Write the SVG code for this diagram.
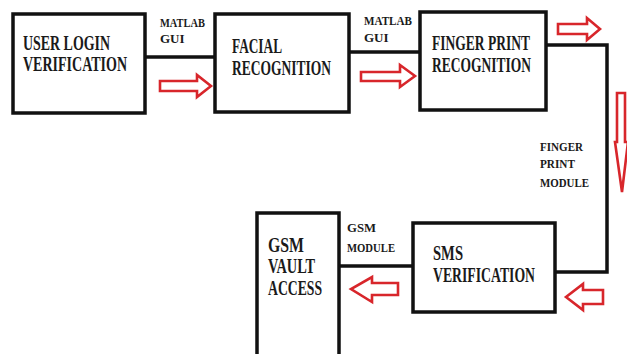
<svg xmlns="http://www.w3.org/2000/svg" width="627" height="354" viewBox="0 0 627 354">
<style>
.box{fill:#fff;stroke:#111;stroke-width:3.5}
.wire{fill:none;stroke:#111;stroke-width:3.5}
.arr{fill:#fff;stroke:#d8262b;stroke-width:2.6;stroke-linejoin:miter}
.t{font-family:"Liberation Serif","Times New Roman",serif;font-weight:bold;font-size:20px;fill:#1a1a1a}
.s{font-family:"Liberation Serif","Times New Roman",serif;font-weight:bold;font-size:13px;fill:#1a1a1a}
</style>
<rect width="627" height="354" fill="#fff"/>
<g id="connectors">
<path class="wire" d="M145,57 H215"/>
<path class="wire" d="M349,52 H420"/>
<path class="wire" d="M546,45 H607 V272 H555"/>
<path class="wire" d="M413,266 H339"/>
<path class="arr" d="M160,81 H197 V75 L211,86 L197,97 V91 H160 Z"/>
<path class="arr" d="M361,72 H400 V65 L415,76 L400,87 V81 H361 Z"/>
<path class="arr" d="M558,24 H587 V18 L600,29 L587,40 V34 H558 Z"/>
<path class="arr" d="M617,93 H625 V142 H628 L622,192 L615,142 H617 Z"/>
<path class="arr" d="M603,290 H583 V284 L566,297 L583,310 V304 H603 Z"/>
<path class="arr" d="M398,283 H372 V277 L351,289 L372,302 V295 H398 Z"/>
<text class="s" x="160" y="27" textLength="45" lengthAdjust="spacingAndGlyphs">MATLAB</text>
<text class="s" x="160" y="43">GUI</text>
<text class="s" x="364" y="25" textLength="48" lengthAdjust="spacingAndGlyphs">MATLAB</text>
<text class="s" x="364" y="42">GUI</text>
<text class="s" x="540" y="151" textLength="43" lengthAdjust="spacingAndGlyphs">FINGER</text>
<text class="s" x="540" y="168" textLength="35" lengthAdjust="spacingAndGlyphs">PRINT</text>
<text class="s" x="540" y="187" textLength="49" lengthAdjust="spacingAndGlyphs">MODULE</text>
<text class="s" x="347" y="232" textLength="29" lengthAdjust="spacingAndGlyphs">GSM</text>
<text class="s" x="347" y="252" textLength="48" lengthAdjust="spacingAndGlyphs">MODULE</text>
</g>
<g id="user-login">
<rect class="box" x="13" y="14" width="132" height="99"/>
<text class="t" x="23" y="50" textLength="87" lengthAdjust="spacingAndGlyphs">USER LOGIN</text>
<text class="t" x="23" y="71" textLength="104" lengthAdjust="spacingAndGlyphs">VERIFICATION</text>
</g>
<g id="facial">
<rect class="box" x="215" y="14" width="134" height="98"/>
<text class="t" x="232" y="53" textLength="50" lengthAdjust="spacingAndGlyphs">FACIAL</text>
<text class="t" x="232" y="75" textLength="99" lengthAdjust="spacingAndGlyphs">RECOGNITION</text>
</g>
<g id="fingerprint">
<rect class="box" x="420" y="12" width="126" height="98"/>
<text class="t" x="432" y="50" textLength="98" lengthAdjust="spacingAndGlyphs">FINGER PRINT</text>
<text class="t" x="432" y="72" textLength="99" lengthAdjust="spacingAndGlyphs">RECOGNITION</text>
</g>
<g id="sms">
<rect class="box" x="413" y="223" width="142" height="89"/>
<text class="t" x="433" y="260" textLength="30" lengthAdjust="spacingAndGlyphs">SMS</text>
<text class="t" x="433" y="282" textLength="102" lengthAdjust="spacingAndGlyphs">VERIFICATION</text>
</g>
<g id="gsm-vault">
<rect class="box" x="257" y="213" width="82" height="150"/>
<text class="t" x="268" y="252" textLength="36" lengthAdjust="spacingAndGlyphs">GSM</text>
<text class="t" x="268" y="273" textLength="47" lengthAdjust="spacingAndGlyphs">VAULT</text>
<text class="t" x="268" y="295" textLength="54" lengthAdjust="spacingAndGlyphs">ACCESS</text>
</g>
</svg>
